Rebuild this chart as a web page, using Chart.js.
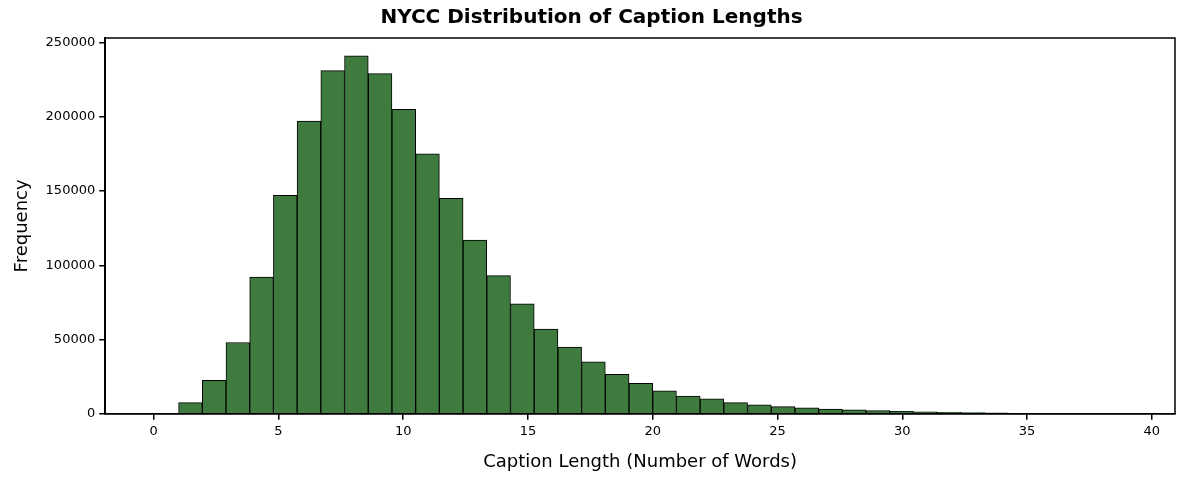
<!DOCTYPE html>
<html><head><script src="https://cdn.jsdelivr.net/npm/chart.js@4"></script>
<style>body{margin:0;background:#fff}#w{width:1184px;height:483px}</style></head>
<body><div id="w"><canvas id="c"></canvas></div>
<script>
const binStart = 1, binEnd = 39, binCount = 40;
const frequencies = [7500,22500,48000,92000,147000,197000,231000,241000,229000,205000,175000,145000,117000,93000,74000,57000,45000,35000,26500,20500,15500,12000,10000,7500,6000,4800,4000,3200,2600,2100,1700,1300,1000,800,600,450,350,280,220,170];
const xTicks = [0,5,10,15,20,25,30,35,40];
const yTicks = [0,50000,100000,150000,200000,250000];
const w = (binEnd-binStart)/binCount;
const data = frequencies.map((v,i)=>({x:binStart+w*(i+0.5), y:v}));
const frame = {id:'frame',afterDraw(c){const a=c.chartArea,g=c.ctx;g.save();g.strokeStyle='#000';g.lineWidth=1.5;g.strokeRect(a.left,a.top,a.right-a.left,a.bottom-a.top);g.restore();}};
new Chart(document.getElementById('c'),{type:'bar',
data:{datasets:[{data,backgroundColor:'#3f7b3f',borderColor:'#000',borderWidth:1,barPercentage:1,categoryPercentage:1,grouped:false}]},
options:{responsive:true,maintainAspectRatio:false,animation:false,
layout:{padding:{left:8,right:9,top:0,bottom:6}},
plugins:{legend:{display:false},tooltip:{enabled:false},
title:{display:true,text:'NYCC Distribution of Caption Lengths',font:{family:'DejaVu Sans',size:20,weight:'bold'},color:'#000',padding:{top:6,bottom:8}}},
scales:{
x:{type:'linear',offset:false,min:-1.94,max:40.93,afterBuildTicks(s){s.ticks=xTicks.map(v=>({value:v}));},
grid:{offset:false,drawOnChartArea:false,tickLength:6,tickColor:'#000',lineWidth:1.5},border:{color:'#000',width:1.5},
ticks:{color:'#000',font:{family:'DejaVu Sans',size:13},padding:4,maxRotation:0,callback:v=>String(v)},
title:{display:true,text:'Caption Length (Number of Words)',font:{family:'DejaVu Sans',size:18},color:'#000',padding:{top:8}}},
y:{min:0,max:253000,afterBuildTicks(s){s.ticks=yTicks.map(v=>({value:v}));},
grid:{drawOnChartArea:false,tickLength:6,tickColor:'#000',lineWidth:1.5},border:{color:'#000',width:1.5},
ticks:{color:'#000',font:{family:'DejaVu Sans',size:13},padding:4,callback:v=>String(v)},
title:{display:true,text:'Frequency',font:{family:'DejaVu Sans',size:18},color:'#000',padding:{bottom:8}}}}},
plugins:[frame]});
</script></body></html>
